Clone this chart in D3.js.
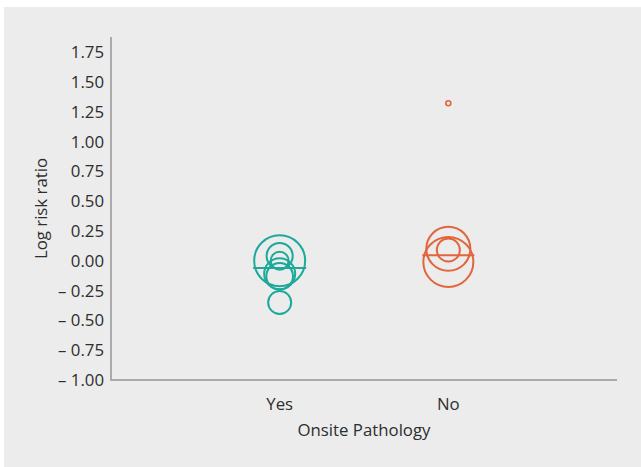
<!DOCTYPE html>
<html>
<head>
<meta charset="utf-8">
<script src="https://cdn.jsdelivr.net/npm/d3@7"></script>
<style>
  html, body { margin: 0; padding: 0; background: #ffffff; }
  svg { display: block; }
  text { font-family: "Open Sans", sans-serif; fill: #2e2e2e; }
</style>
</head>
<body>
<script>
// ---- data ----
const categories = ["Yes", "No"];
const yesValues  = [0.00, 0.04, 0.00, -0.11, -0.13, -0.35];
const yesWeights = [26.0, 6.8, 3.2, 9.6, 7.1, 5.3];
const noValues   = [0.10, 0.09, -0.01, 1.32];
const noWeights  = [19.4, 5.3, 25.0, 0.25];
const pooled     = [-0.06, 0.045];
const yTicks     = [1.75, 1.5, 1.25, 1.0, 0.75, 0.5, 0.25, 0.0, -0.25, -0.5, -0.75, -1.0];
const colors     = ["#1ba99a", "#e2653c"];

(function () {
const W = 641, H = 467;
const FS = 16.8;
const svg = d3.select("body").append("svg").attr("width", W).attr("height", H);

// panel background
svg.append("rect").attr("x", 4).attr("y", 7).attr("width", W - 4).attr("height", H - 7)
  .attr("fill", "#ebeceb");

const mLeft = 111, mRight = 617, mBottom = 380, mTop = 37;
const y = d3.scaleLinear().domain([-1, 1.75]).range([mBottom, 52]);
const x = d3.scalePoint().domain(categories).range([mLeft, mRight]).padding(1);
const r = d3.scaleSqrt().domain([0, 1]).range([0, 5]);

// axes
svg.append("line").attr("x1", mLeft).attr("x2", mLeft).attr("y1", mTop).attr("y2", mBottom + 1)
  .attr("stroke", "#aaaaaa").attr("stroke-width", 2);
svg.append("line").attr("x1", mLeft - 1).attr("x2", mRight).attr("y1", mBottom).attr("y2", mBottom)
  .attr("stroke", "#aaaaaa").attr("stroke-width", 2);

const fmt = v => (v < 0 ? "\u2013 " : "") + Math.abs(v).toFixed(2);
svg.append("g").selectAll("text").data(yTicks).join("text")
  .attr("x", 104).attr("y", d => y(d)).attr("dy", "0.36em")
  .attr("text-anchor", "end").attr("font-size", FS).text(fmt);

svg.append("g").selectAll("text").data(categories).join("text")
  .attr("x", d => x(d)).attr("y", 410).attr("text-anchor", "middle")
  .attr("font-size", FS).text(d => d);

svg.append("text").attr("x", 364)
  .attr("y", 436).attr("text-anchor", "middle").attr("font-size", FS).text("Onsite Pathology");

svg.append("text").attr("transform", `translate(47,${(mTop + mBottom) / 2}) rotate(-90)`)
  .attr("text-anchor", "middle").attr("font-size", FS).text("Log risk ratio");

// groups
const groups = [
  { cat: "Yes", values: yesValues, weights: yesWeights },
  { cat: "No", values: noValues, weights: noWeights }
];

groups.forEach((g, gi) => {
  const pts = g.values.map((v, i) => ({ v, w: g.weights[i] }));
  const gg = svg.append("g");
  gg.selectAll("circle").data(pts).join("circle")
    .attr("cx", x(g.cat)).attr("cy", d => y(d.v)).attr("r", d => r(d.w))
    .attr("fill", "none").attr("stroke", colors[gi])
    .attr("stroke-width", d => r(d.w) < 4 ? 1.6 : 2);
  const half = d3.max(pts, d => r(d.w)) + 1;
  gg.append("line")
    .attr("x1", x(g.cat) - half).attr("x2", x(g.cat) + half)
    .attr("y1", y(pooled[gi])).attr("y2", y(pooled[gi]))
    .attr("stroke", colors[gi]).attr("stroke-width", 2);
});
})();
</script>
</body>
</html>
